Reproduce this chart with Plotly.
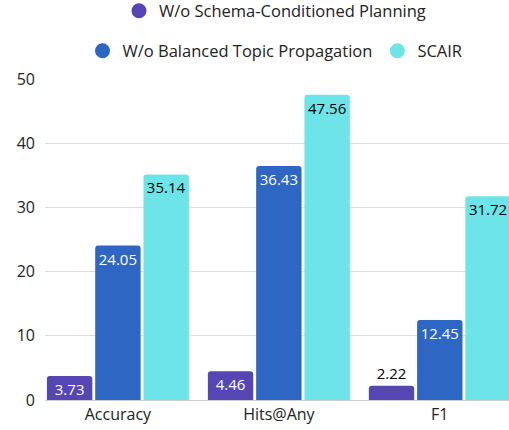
import plotly.graph_objects as go

# =============================================================================
# DATOS
# =============================================================================

categorias = ["Accuracy", "Hits@Any", "F1"]

sin_planificacion = [3.73, 4.46, 2.22]
sin_propagacion = [24.05, 36.43, 12.45]
scair = [35.14, 47.56, 31.72]

nombres = [
    "W/o Schema-Conditioned Planning",
    "W/o Balanced Topic Propagation",
    "SCAIR",
]

colores = ["#5546b4", "#2e66c3", "#6de4e8"]
FUENTE = "Open Sans"
ALTO = 430

# =============================================================================
# FIGURA
# =============================================================================

fig = go.Figure()

series = [sin_planificacion, sin_propagacion, scair]
colores_texto = ["white", "white", "black"]

for nombre, valores, color, ctexto in zip(nombres, series, colores, colores_texto):
    # valores pequeños -> etiqueta fuera de la barra
    posiciones = ["inside" if v > 3 else "outside" for v in valores]
    fuentes = [ctexto if p == "inside" else "black" for p in posiciones]
    fig.add_trace(go.Bar(
        x=categorias, y=valores, name=nombre,
        marker=dict(color=color, cornerradius=3, line=dict(width=0)),
        text=[f"{v:.2f}" for v in valores],
        textposition=posiciones,
        insidetextanchor="end",
        textangle=0,
        constraintext="none",
        cliponaxis=False,
        textfont=dict(family=FUENTE, size=15, color=fuentes),
        showlegend=False,
    ))

# leyenda con círculos (dos filas centradas)
for i, (nombre, color) in enumerate(zip(nombres, colores)):
    fig.add_trace(go.Scatter(
        x=[None], y=[None], mode="markers", name=nombre,
        marker=dict(color=color, size=15, symbol="circle"),
        legend="legend" if i == 0 else "legend2",
    ))

leyenda_base = dict(
    orientation="h", xanchor="center", x=275 / 509, xref="container",
    yanchor="middle", yref="container",
    font=dict(family=FUENTE, size=16.5, color="#222222"),
    bgcolor="rgba(0,0,0,0)", itemclick=False, itemsizing="trace",
)

fig.update_layout(
    width=509, height=ALTO,
    margin=dict(l=45, r=0, t=79, b=ALTO - 400, autoexpand=False),
    plot_bgcolor="white", paper_bgcolor="white",
    bargap=0.1, bargroupgap=0.06,
    barmode="group",
    font=dict(family=FUENTE, size=15, color="#222222"),
    legend=dict(leyenda_base, y=1 - 11 / ALTO),
    legend2=dict(leyenda_base, y=1 - 51 / ALTO),
)

fig.update_xaxes(
    range=[-0.453, 2.43], showgrid=False, ticks="",
    showline=True, linecolor="#cccccc", linewidth=1,
    tickfont=dict(family=FUENTE, size=16, color="#222222"),
)
fig.update_yaxes(
    range=[0, 50], tickvals=[0, 10, 20, 30, 40, 50],
    showgrid=True, gridcolor="#dddddd", gridwidth=1,
    zeroline=False, ticks="", ticklabelstandoff=9,
    tickfont=dict(family=FUENTE, size=16, color="#222222"),
)

# quitar el margen por defecto del body para que la figura ocupe la ventana
fig.write_html(
    "out.html",
    config={"displayModeBar": False},
    post_script="document.body.style.margin='0';document.body.style.overflow='hidden';",
)
